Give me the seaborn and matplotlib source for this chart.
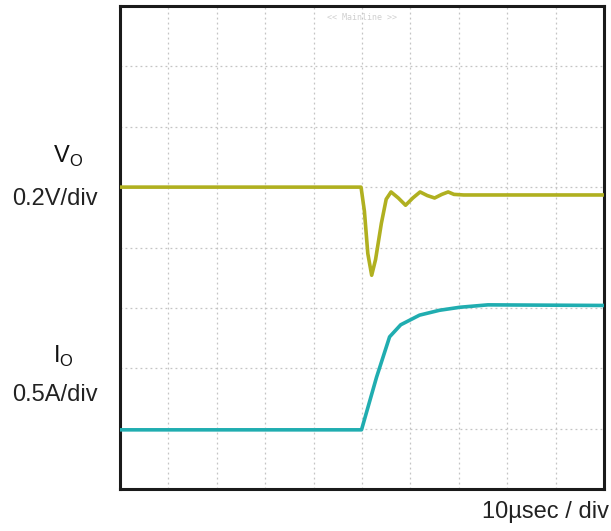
import numpy as np
import pandas as pd
import matplotlib
matplotlib.use("Agg")
import matplotlib.pyplot as plt
import seaborn as sns

# Time axis in divisions (10 µs/div), amplitude in divisions (8 vertical divisions)
v_time = [0.0, 4.98, 5.05, 5.12, 5.20, 5.28, 5.40, 5.50, 5.60, 5.75, 5.90, 6.05, 6.20,
          6.35, 6.50, 6.65, 6.78, 6.90, 7.10, 10.0]
v_level = [5.00, 5.00, 4.60, 3.90, 3.54, 3.80, 4.40, 4.80, 4.92, 4.82, 4.70, 4.82, 4.92,
           4.86, 4.82, 4.88, 4.92, 4.88, 4.87, 4.87]

i_time = [0.0, 4.99, 5.30, 5.57, 5.80, 6.19, 6.60, 7.02, 7.60, 10.0]
i_level = [0.98, 0.98, 1.85, 2.52, 2.72, 2.88, 2.96, 3.01, 3.05, 3.04]

v_label = "V$_\\mathrm{O}$"
v_scale = "0.2V/div"
i_label = "I$_\\mathrm{O}$"
i_scale = "0.5A/div"
time_scale = "10µsec / div"

sns.set_style("white")
plt.rcParams["font.family"] = ["Liberation Sans", "DejaVu Sans"]
plt.rcParams["mathtext.fontset"] = "custom"
plt.rcParams["mathtext.rm"] = "Liberation Sans"

fig = plt.figure(figsize=(6.11, 5.31), dpi=100)
ax = fig.add_axes([120 / 611, (531 - 489) / 531, 484 / 611, 483 / 531])

vdf = pd.DataFrame({"t": v_time, "y": v_level})
idf = pd.DataFrame({"t": i_time, "y": i_level})
sns.lineplot(data=vdf, x="t", y="y", ax=ax, color="#b0b020", linewidth=2.6, zorder=3)
sns.lineplot(data=idf, x="t", y="y", ax=ax, color="#20adb0", linewidth=2.6, zorder=3)

ax.set_xlim(0, 10)
ax.set_ylim(0, 8)
for xv in range(1, 10):
    ax.axvline(xv, color="#c4c4c4", linestyle=(0, (1.5, 2.5)), linewidth=0.9, zorder=1)
for yv in range(1, 8):
    ax.axhline(yv, color="#c4c4c4", linestyle=(0, (1.5, 2.5)), linewidth=0.9, zorder=1)
ax.set_xticks([])
ax.set_yticks([])
ax.set_xlabel("")
ax.set_ylabel("")
for s in ax.spines.values():
    s.set_visible(True)
    s.set_color("#1a1a1a")
    s.set_linewidth(2.2)

ax.text(0.5, 0.985, "<< Mainline >>", transform=ax.transAxes, ha="center", va="top",
        fontsize=6, color="#d0d0d0", family="DejaVu Sans Mono")

fig.text(68 / 611, 1 - 156 / 531, v_label, ha="center", va="center", fontsize=17, color="#111111")
fig.text(55 / 611, 1 - 199 / 531, v_scale, ha="center", va="center", fontsize=17, color="#222222")
fig.text(63 / 611, 1 - 356 / 531, i_label, ha="center", va="center", fontsize=17, color="#111111")
fig.text(55 / 611, 1 - 395 / 531, i_scale, ha="center", va="center", fontsize=17, color="#222222")
fig.text(609 / 611, 1 - 512 / 531, time_scale, ha="right", va="center", fontsize=17, color="#222222")

fig.savefig("out.png", dpi=100)
